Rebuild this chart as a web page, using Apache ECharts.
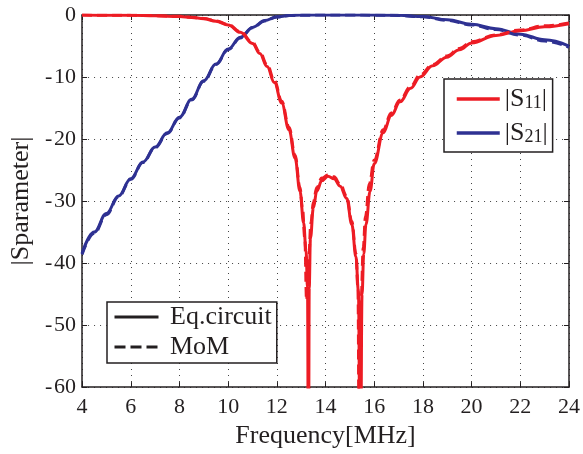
<!DOCTYPE html>
<html>
<head>
<meta charset="utf-8">
<script src="https://cdn.jsdelivr.net/npm/echarts@6/dist/echarts.min.js"></script>
<style>
  html, body { margin: 0; padding: 0; background: #fff; }
  #chart { width: 583px; height: 454px; }
</style>
</head>
<body>
<div id="chart"></div>
<script>
// Frequency axis ticks and S-parameter axis ticks
const xTicks = [4, 6, 8, 10, 12, 14, 16, 18, 20, 22, 24];
const yTicks = [-60, -50, -40, -30, -20, -10, 0];

// |S11| from the equivalent circuit (dB vs MHz)
const freqS11Circuit = [4, 5, 6, 7, 8, 8.5, 9, 9.5, 10, 10.5, 11, 11.3, 11.6, 11.9, 12.2, 12.5, 12.75, 12.95, 13.1, 13.2, 13.26, 13.3, 13.33, 13.38, 13.5, 13.64, 13.85, 14.1, 14.35, 14.6, 14.87, 15.08, 15.25, 15.35, 15.43, 15.5, 15.57, 15.66, 15.83, 16.0, 16.37, 16.7, 17.06, 17.5, 17.88, 18.4, 18.98, 19.5, 20, 21, 22, 23, 24];
const s11Circuit = [-0.02, -0.03, -0.06, -0.12, -0.25, -0.4, -0.6, -1.0, -1.6, -2.8, -4.6, -6.2, -8.3, -10.9, -14.2, -18.5, -23.1, -28.4, -33.5, -38, -44, -80, -44, -36, -31.1, -28.4, -26.7, -26.0, -26.4, -27.6, -29.6, -33.8, -39, -44.5, -80, -45, -38.5, -33.8, -28.4, -24.0, -19.0, -16.2, -14.0, -11.8, -10.0, -8.2, -6.8, -5.6, -4.5, -3.3, -2.55, -1.9, -1.4];

// |S11| from the method of moments
const freqS11MoM = [4, 5, 6, 7, 8, 8.5, 9, 9.5, 10, 10.5, 11, 11.3, 11.6, 11.9, 12.2, 12.5, 12.75, 12.95, 13.05, 13.15, 13.22, 13.3, 13.4, 13.5, 13.64, 13.85, 14.1, 14.35, 14.6, 14.87, 15.08, 15.25, 15.33, 15.39, 15.46, 15.55, 15.64, 15.8, 16.0, 16.37, 16.7, 17.06, 17.5, 17.88, 18.4, 18.98, 19.5, 20, 21, 22, 23, 24];
const s11MoM = [-0.02, -0.03, -0.05, -0.1, -0.22, -0.36, -0.55, -0.95, -1.5, -2.7, -4.4, -6.0, -8.0, -10.6, -13.9, -18.1, -22.6, -27.8, -31, -36, -46, -40, -33.5, -30.2, -27.8, -26.3, -25.8, -26.1, -27.3, -29.2, -33.3, -38.5, -44, -75, -46, -37.5, -32.5, -27.2, -23.4, -18.5, -15.8, -13.7, -11.5, -9.7, -8.0, -6.6, -5.4, -4.3, -3.2, -2.4, -1.75, -1.3];

// |S21| from the equivalent circuit
const freqS21 = [4, 4.5, 5, 5.5, 6, 6.5, 7, 7.5, 8, 8.5, 9, 9.5, 10, 10.5, 11, 11.5, 12, 12.5, 13, 14, 15, 16, 17, 18, 19, 20, 21, 22, 23, 24];
const s21Circuit = [-38.4, -35.0, -32.0, -29.2, -26.4, -23.7, -21.3, -19.0, -16.5, -13.6, -10.6, -7.9, -5.5, -3.6, -2.0, -0.9, -0.3, -0.08, -0.02, 0, 0, -0.02, -0.05, -0.25, -0.75, -1.5, -2.2, -3.1, -4.0, -5.0];

// |S21| from the method of moments
const s21MoM = [-38.6, -35.2, -32.2, -29.3, -26.5, -23.8, -21.4, -19.1, -16.6, -13.7, -10.7, -8.0, -5.6, -3.7, -2.05, -0.95, -0.32, -0.1, -0.03, 0, 0, -0.03, -0.07, -0.3, -0.85, -1.6, -2.35, -3.25, -4.2, -5.2];

const RED = '#ED1C24';
const BLUE = '#2E3192';
const INK = '#231f20';
const FONT = "'Liberation Serif', 'Times New Roman', serif";

function pairs(xs, ys) {
  return xs.map((x, i) => [x, ys[i]]);
}

function curve(name, xs, ys, color, dashed) {
  return {
    name: name,
    type: 'line',
    xAxisIndex: 0,
    yAxisIndex: 0,
    data: pairs(xs, ys),
    symbol: 'none',
    smooth: 0.4,
    smoothMonotone: 'x',
    clip: true,
    color: color,
    lineStyle: { color: color, width: 3, type: dashed ? [10, 5] : 'solid' },
    z: dashed ? 3 : 2
  };
}

// Entries that only carry a line style for the line-type legend
function styleKey(name, dashed) {
  return {
    name: name,
    type: 'line',
    data: [],
    symbol: 'none',
    color: INK,
    lineStyle: { color: INK, width: 3, type: dashed ? [11, 5] : 'solid' }
  };
}

const sLabels = {
  'S11': '{bar||}{s|S}{sub|11}{bar||}',
  'S21': '{bar||}{s|S}{sub|21}{bar||}'
};

// Negative tick values with a slight gap after the sign
function tickText(v) {
  return v < 0 ? '-\u200A' + Math.abs(v) : String(v);
}

const axisCommon = {
  type: 'value',
  axisLine: { show: true, onZero: false, lineStyle: { color: INK, width: 1.5 } },
  axisTick: { show: true, inside: true, length: 5, lineStyle: { color: INK, width: 1 } }
};

const hiddenMarker = { color: 'rgba(0,0,0,0)', borderWidth: 0, opacity: 0 };

const chart = echarts.init(document.getElementById('chart'), null, { renderer: 'canvas' });

chart.setOption({
  animation: false,
  backgroundColor: '#fff',
  grid: { left: 82, right: 14, top: 15, bottom: 63 },
  xAxis: [
    Object.assign({}, axisCommon, {
      position: 'bottom',
      min: xTicks[0], max: xTicks[xTicks.length - 1], interval: 2,
      name: 'Frequency[MHz]',
      nameLocation: 'middle',
      nameGap: 32,
      nameTextStyle: { fontFamily: FONT, fontSize: 26, color: INK },
      axisLabel: { fontFamily: FONT, fontSize: 22, color: INK, margin: 9 },
      splitLine: { show: true, lineStyle: { color: '#444', width: 1, type: [1, 5] } }
    }),
    Object.assign({}, axisCommon, {
      position: 'top',
      min: xTicks[0], max: xTicks[xTicks.length - 1], interval: 2,
      axisLabel: { show: false },
      splitLine: { show: false }
    })
  ],
  yAxis: [
    Object.assign({}, axisCommon, {
      position: 'left',
      min: yTicks[0], max: yTicks[yTicks.length - 1], interval: 10,
      name: '|Sparameter|',
      nameLocation: 'middle',
      nameGap: 47,
      nameTextStyle: { fontFamily: FONT, fontSize: 26, color: INK },
      axisLabel: { fontFamily: FONT, fontSize: 22, color: INK, margin: 6, formatter: tickText },
      splitLine: { show: true, lineStyle: { color: '#444', width: 1, type: [1, 5] } }
    }),
    Object.assign({}, axisCommon, {
      position: 'right',
      min: yTicks[0], max: yTicks[yTicks.length - 1], interval: 10,
      axisLabel: { show: false },
      splitLine: { show: false }
    })
  ],
  legend: [
    {
      data: ['S11', 'S21'],
      orient: 'vertical',
      left: 444,
      top: 79,
      itemWidth: 43,
      itemHeight: 14,
      itemGap: 8,
      padding: [7, 5, 6, 11],
      backgroundColor: '#fff',
      borderColor: INK,
      borderWidth: 1.5,
      borderRadius: 0,
      selectedMode: false,
      itemStyle: hiddenMarker,
      lineStyle: { width: 3.5 },
      formatter: name => sLabels[name],
      textStyle: {
        color: INK,
        fontFamily: FONT,
        rich: {
          bar: { fontFamily: FONT, fontSize: 26, lineHeight: 26, color: INK, verticalAlign: 'bottom' },
          s: { fontFamily: FONT, fontSize: 26, lineHeight: 26, color: INK, verticalAlign: 'bottom' },
          sub: { fontFamily: FONT, fontSize: 18, lineHeight: 20, color: INK, verticalAlign: 'bottom' }
        }
      }
    },
    {
      data: ['Eq.circuit', 'MoM'],
      orient: 'vertical',
      left: 107,
      top: 302,
      itemWidth: 44,
      itemHeight: 14,
      itemGap: 4,
      padding: [2, 5, 3, 6],
      backgroundColor: '#fff',
      borderColor: INK,
      borderWidth: 1.5,
      borderRadius: 0,
      selectedMode: false,
      itemStyle: hiddenMarker,
      lineStyle: { width: 3 },
      formatter: name => ' ' + name,
      textStyle: { color: INK, fontFamily: FONT, fontSize: 26, lineHeight: 26 }
    }
  ],
  series: [
    curve('S21', freqS21, s21Circuit, BLUE, false),
    curve('S21 MoM', freqS21, s21MoM, BLUE, true),
    curve('S11', freqS11Circuit, s11Circuit, RED, false),
    curve('S11 MoM', freqS11MoM, s11MoM, RED, true),
    styleKey('Eq.circuit', false),
    styleKey('MoM', true)
  ]
});
</script>
</body>
</html>
